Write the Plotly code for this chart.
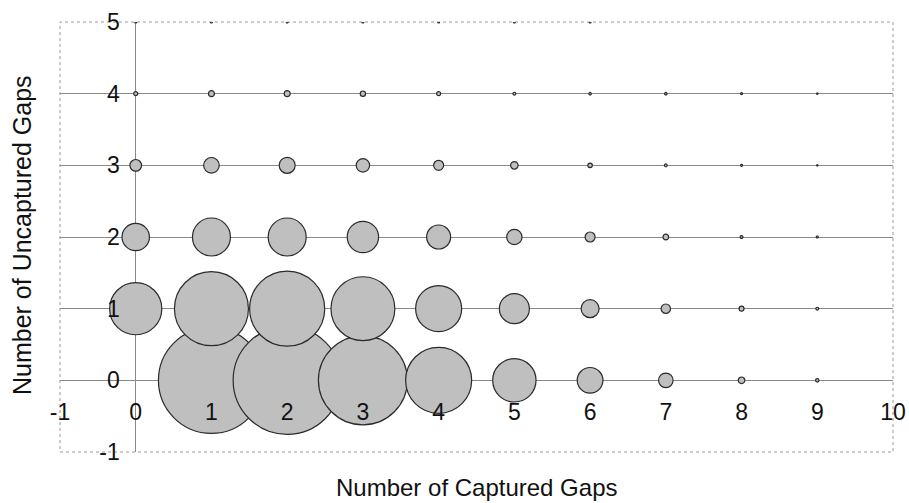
import plotly.graph_objects as go

# ---- data ----
captured = [0, 1, 2, 3, 4, 5, 6, 7, 8, 9]          # x categories
uncaptured = [0, 1, 2, 3, 4, 5]                     # y rows
# relative frequency (bubble area) for each row, indexed by captured gaps
freq_u0 = [0, 2810, 2920, 1980, 1090, 470, 165, 53, 11, 3]
freq_u1 = [680, 1370, 1410, 1020, 530, 225, 81, 22, 6, 2]
freq_u2 = [188, 361, 361, 246, 144, 59, 25, 8, 2, 1]
freq_u3 = [34, 61, 64, 45, 25, 14, 5, 2, 1, 0.5]
freq_u4 = [4, 9, 9, 7, 4, 2, 1.5, 1.5, 1, 0.5]
freq_u5 = [1, 1, 1, 1, 1, 1, 1, 0, 0, 0]
x_ticks = [-1, 0, 1, 2, 3, 4, 5, 6, 7, 8, 9, 10]
y_ticks = [-1, 0, 1, 2, 3, 4, 5]
grid_rows = [0, 1, 2, 3, 4]
x_title = "Number of Captured Gaps"
y_title = "Number of Uncaptured Gaps"

rows = [freq_u0, freq_u1, freq_u2, freq_u3, freq_u4, freq_u5]
xs, ys, ss = [], [], []
for u, row in zip(uncaptured, rows):
    for c, v in zip(captured, row):
        if v > 0:
            xs.append(c)
            ys.append(u)
            ss.append(v)

xr = [x_ticks[0], x_ticks[-1]]
yr = [y_ticks[0], y_ticks[-1]]
font = "Liberation Sans, Arial, sans-serif"

fig = go.Figure()
fig.add_trace(go.Scatter(
    x=xs, y=ys, mode="markers",
    marker=dict(size=ss, sizemode="area", sizeref=0.5, sizemin=0,
                color="#bfbfbf", opacity=1,
                line=dict(color="#2a2a2a", width=1.2)),
    hoverinfo="x+y", showlegend=False,
))

fig.update_layout(
    width=909, height=503,
    margin=dict(l=60, r=16, t=22, b=51, autoexpand=False),
    paper_bgcolor="white", plot_bgcolor="white",
    font=dict(family=font, size=23, color="#111"),
    xaxis=dict(
        range=xr, tickvals=x_ticks, ticktext=[str(t) for t in x_ticks],
        showgrid=False, zeroline=True, zerolinecolor="#8a8a8a", zerolinewidth=1,
        showline=False, anchor="free", automargin=False,
        position=(0 - yr[0]) / (yr[1] - yr[0]),
        ticks="", ticklabelstandoff=16, layer="above traces",
        tickfont=dict(family=font, size=23, color="#111"),
    ),
    yaxis=dict(
        range=yr, tickvals=y_ticks, ticktext=[str(t) for t in y_ticks],
        showgrid=False, zeroline=False, showline=False, anchor="free",
        automargin=False,
        position=(0 - xr[0]) / (xr[1] - xr[0]),
        ticks="", ticklabelstandoff=16, layer="above traces",
        tickfont=dict(family=font, size=23, color="#111"),
        minor=dict(tickvals=grid_rows, showgrid=True, gridcolor="#8a8a8a",
                   gridwidth=1, ticks=""),
    ),
    shapes=[dict(type="rect", xref="paper", yref="paper", x0=0, x1=1, y0=0, y1=1,
                 line=dict(color="#9a9a9a", width=1, dash="dot"), layer="below")],
    annotations=[
        dict(text=x_title, xref="paper", yref="paper", x=0.5, y=0,
             xanchor="center", yanchor="middle", yshift=-35,
             showarrow=False, font=dict(family=font, size=24, color="#111")),
        dict(text=y_title, xref="paper", yref="paper", x=0, y=0.5,
             xanchor="center", yanchor="middle", xshift=-38, yshift=2,
             textangle=-90, showarrow=False,
             font=dict(family=font, size=25, color="#111")),
    ],
)

fig.write_html("out.html")
